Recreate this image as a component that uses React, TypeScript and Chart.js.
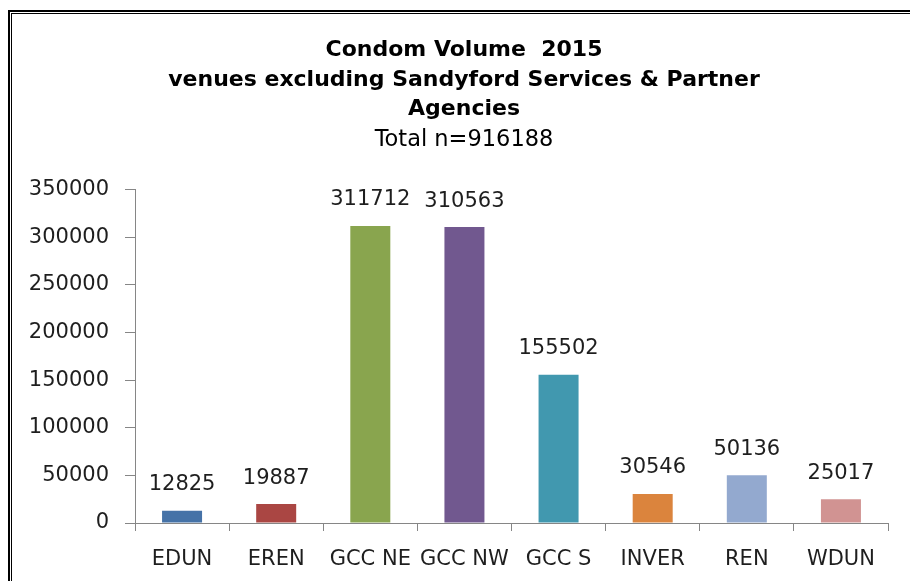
import React, { useEffect, useRef } from "react";
import { Chart, registerables } from "chart.js";

Chart.register(...registerables);

const categories = ["EDUN", "EREN", "GCC NE", "GCC NW", "GCC S", "INVER", "REN", "WDUN"];
const volumes = [12825, 19887, 311712, 310563, 155502, 30546, 50136, 25017];
const barColors = ["#4572A7", "#AA4643", "#89A54E", "#71588F", "#4198AF", "#DB843D", "#93A9CF", "#D19392"];
const titleLines = ["Condom Volume  2015", "venues excluding Sandyford Services & Partner", "Agencies"];
const subtitleText = "Total n=916188";
const yMin = 0;
const yMax = 350000;
const yStep = 50000;

const framePlugin = {
  id: "frame",
  afterLayout(chart: any) {
    // let the y-axis labels extend left of the padded area without being clipped
    if (chart.scales && chart.scales.y) chart.scales.y.left = 0;
  },
  beforeDraw(chart: any) {
    const ctx = chart.ctx;
    ctx.save();
    ctx.fillStyle = "#ffffff";
    ctx.fillRect(0, 0, chart.width, chart.height);
    ctx.fillStyle = "#000000";
    ctx.fillRect(8, 10, chart.width, 2);
    ctx.fillRect(8, 10, 2, chart.height);
    ctx.fillRect(11, 13, chart.width, 1);
    ctx.fillRect(11, 13, 1, chart.height);
    ctx.restore();
  },
};

const valueLabelPlugin = {
  id: "valueLabels",
  afterDatasetsDraw(chart: any) {
    const ctx = chart.ctx;
    const meta = chart.getDatasetMeta(0);
    const data = chart.data.datasets[0].data;
    ctx.save();
    ctx.font = "21px 'DejaVu Sans'";
    ctx.fillStyle = "#1e1e1e";
    ctx.textAlign = "center";
    ctx.textBaseline = "middle";
    meta.data.forEach((el: any, i: number) => {
      ctx.fillText(String(data[i]), el.x, el.y - 26);
    });
    ctx.restore();
  },
};

export default function App() {
  const ref = useRef<HTMLCanvasElement | null>(null);
  useEffect(() => {
    if (!ref.current) return;
    const chart = new Chart(ref.current, {
      type: "bar",
      data: {
        labels: categories,
        datasets: [
          {
            data: volumes,
            backgroundColor: barColors,
            borderWidth: 0,
            barPercentage: 0.425,
            categoryPercentage: 1,
          },
        ],
      },
      options: {
        animation: false,
        responsive: false,
        maintainAspectRatio: false,
        layout: { padding: { top: 36, left: 40, right: 22, bottom: 0 } },
        plugins: {
          legend: { display: false },
          tooltip: { enabled: false },
          title: {
            display: true,
            text: titleLines,
            color: "#000000",
            font: { family: "'DejaVu Sans', sans-serif", size: 22, weight: "bold", lineHeight: 1.333 },
            padding: { top: 0, bottom: 0 },
          },
          subtitle: {
            display: true,
            text: subtitleText,
            color: "#000000",
            font: { family: "'DejaVu Sans', sans-serif", size: 22.5, weight: "normal", lineHeight: 1.333 },
            padding: { top: 1, bottom: 34.5 },
          },
        },
        scales: {
          x: {
            grid: { display: true, drawOnChartArea: false, drawTicks: true, tickLength: 8, color: "#868686", offset: true },
            border: { display: true, color: "#868686", width: 1 },
            ticks: {
              autoSkip: false,
              maxRotation: 0,
              minRotation: 0,
              padding: 16,
              color: "#1e1e1e",
              font: { family: "'DejaVu Sans'", size: 21 },
            },
            afterFit: (s: any) => {
              s.height = 58;
            },
          },
          y: {
            min: yMin,
            max: yMax,
            grid: { display: true, drawOnChartArea: false, drawTicks: true, tickLength: 10, color: "#868686" },
            border: { display: true, color: "#868686", width: 1 },
            ticks: {
              stepSize: yStep,
              padding: 16,
              color: "#1e1e1e",
              font: { family: "'DejaVu Sans'", size: 21 },
              callback: (v: any) => String(v),
            },
            afterFit: (s: any) => {
              s.width = 95;
            },
          },
        },
      },
      plugins: [framePlugin, valueLabelPlugin],
    });
    return () => chart.destroy();
  }, []);
  return (
    <div style={{ position: "fixed", left: 0, top: 0, width: 910, height: 581, background: "#fff" }}>
      <canvas ref={ref} width={910} height={581} style={{ display: "block", width: 910, height: 581 }} />
    </div>
  );
}
